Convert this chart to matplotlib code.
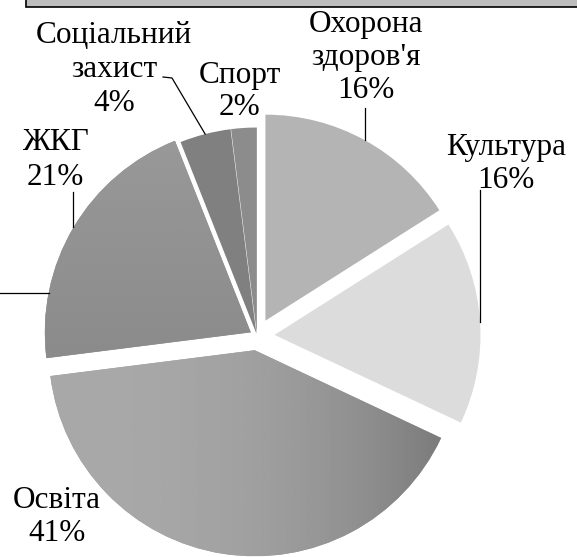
import matplotlib.pyplot as plt
import numpy as np

# budget structure, % (clockwise from 12 o'clock)
categories = ["Охорона\nздоров'я", "Культура", "Освіта", "ЖКГ", "Соціальний\nзахист", "Спорт"]
shares = [16, 16, 41, 21, 4, 2]
pct_labels = ["16%", "16%", "41%", "21%", "4%", "2%"]

colors = ["#b4b4b4", "#dcdcdc", "#9d9d9d", "#8f8f8f", "#808080", "#8c8c8c"]
explode = [0.085, 0.085, 0.07, 0.035, 0.012, 0.012]  # fraction of radius

W, H = 577, 557
fig = plt.figure(figsize=(W / 100, H / 100), dpi=100)
ax = fig.add_axes([0, 0, 1, 1])

R = 206
# matplotlib's explode is an absolute offset, so scale it by the radius
wedges, _ = ax.pie(shares, startangle=90, counterclock=False,
                   explode=[e * R for e in explode],
                   colors=colors, radius=R, center=(257, H - 336), frame=True,
                   wedgeprops=dict(linewidth=0))


def shade(w, start, end, horizontal=True, power=1.0):
    # soft linear shading inside a wedge, like the scanned fill
    cx, cy = w.center
    g = np.linspace(0, 1, 256) ** power
    lev = start + (end - start) * g
    img = lev[None, :] if horizontal else lev[:, None]
    im = ax.imshow(img, cmap="gray", vmin=0, vmax=1,
                   extent=(cx - w.r, cx + w.r, cy - w.r, cy + w.r),
                   origin="lower", aspect="auto", zorder=w.get_zorder() + 0.1)
    im.set_clip_path(w)


# Освіта gets darker towards its right tip, ЖКГ towards the bottom
shade(wedges[2], 0.66, 0.46, power=2.5)
shade(wedges[3], 0.50, 0.60, horizontal=False)

ax.set_xlim(0, W)
ax.set_ylim(0, H)
ax.set_aspect("auto")
ax.axis("off")

# strip of the title box cut by the scan
ax.add_patch(plt.Rectangle((26, H - 7), W, 10, facecolor="#bdbdbd",
                           edgecolor="black", linewidth=1.2, clip_on=True))

font = dict(family="Liberation Serif", fontsize=22.5, color="black")
lw = 0.9


def arc_point(w, ang=None):
    if ang is None:
        ang = (w.theta1 + w.theta2) / 2
    cx, cy = w.center
    a = np.deg2rad(ang)
    return cx + w.r * np.cos(a), cy + w.r * np.sin(a)


def put(lines, x, y0, step=33):
    for i, t in enumerate(lines):
        ax.text(x, H - (y0 + i * step), t, ha="center", va="baseline", **font)


# label positions (image pixels: centre x, first baseline y)
put(["Охорона", "здоров'я", pct_labels[0]], 366, 32, 33)
put(["Культура", pct_labels[1]], 506, 155, 33)
put(["Освіта", pct_labels[2]], 57, 508, 33)
put(["ЖКГ", pct_labels[3]], 55, 150, 35)
put(["Соціальний", "захист", pct_labels[4]], 114, 43, 34)
put(["Спорт", pct_labels[5]], 240, 83, 32)

# leader lines
x, y = arc_point(wedges[0])
ax.plot([x, x], [y, H - 108], color="black", lw=lw)
x, y = arc_point(wedges[1])
ax.plot([x, x], [y, H - 190], color="black", lw=lw)
x, y = arc_point(wedges[3])
ax.plot([x, x], [y, H - 192], color="black", lw=lw)
x, y = arc_point(wedges[4])
ax.plot([x, 172, 163], [y, H - 78, H - 77], color="black", lw=lw)
x, y = arc_point(wedges[3], 169)
ax.plot([0, x], [y, y], color="black", lw=lw)

fig.savefig("out.png", dpi=100)
